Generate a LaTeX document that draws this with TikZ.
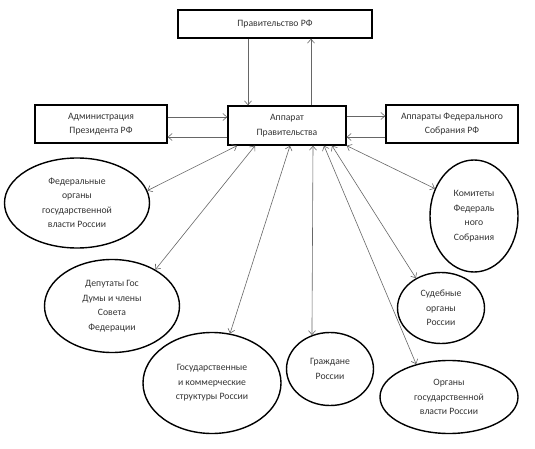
\documentclass[tikz,border=0pt]{standalone}
\usepackage{fontspec}
\setmainfont{Carlito}
\usepackage{xcolor}
\usepackage{tikz}
\usetikzlibrary{shapes.geometric, arrows.meta, positioning, calc}
\definecolor{txtgray}{HTML}{333333}
\definecolor{linegray}{HTML}{666666}
\tikzset{
  box/.style={rectangle, draw=black, line width=1.4pt, fill=white,
    text centered, align=center, text=txtgray, inner sep=2pt,
    font=\fontsize{9.7}{14.5}\selectfont},
  oval/.style={ellipse, draw=black, line width=1.4pt, fill=white,
    text centered, align=center, text=txtgray, inner sep=0pt,
    font=\fontsize{9.7}{14.5}\selectfont},
  arrow/.style={-{Straight Barb[length=4pt,width=7pt]}, draw=linegray, line width=0.6pt},
  dblarrow/.style={{Straight Barb[length=4pt,width=7pt]}-{Straight Barb[length=4pt,width=7pt]},
    draw=linegray, line width=0.6pt}
}

\begin{document}
\begin{tikzpicture}[x=1pt, y=-1pt]
\useasboundingbox (0,0) rectangle (535,449);

\node (gov) [box, minimum width=194pt, minimum height=28pt] at (275,24)   {Правительство РФ};
\node (app) [box, minimum width=118pt, minimum height=39pt] at (287,125.5) {Аппарат\\Правительства};
\node (adm) [box, minimum width=132pt, minimum height=38pt] at (101,124)  {Администрация\\Президента РФ};
\node (fs)  [box, minimum width=132pt, minimum height=38pt] at (452,124)  {Аппараты Федерального\\Собрания РФ};

\node (fed) [oval, minimum width=145pt, minimum height=90pt]  at (77,203)  {Федеральные\\органы\\государственной\\власти России};
\node (dep) [oval, minimum width=135pt, minimum height=93pt]  at (112,306) {Депутаты Гос\\Думы и члены\\Совета\\Федерации};
\node (gk)  [oval, minimum width=138pt, minimum height=101pt] at (212,383) {Государственные\\и коммерческие\\структуры России};
\node (gr)  [oval, minimum width=87pt,  minimum height=73pt]  at (330,369) {Граждане\\России};
\node (org) [oval, minimum width=138pt, minimum height=73pt]  at (449,397) {Органы\\государственной\\власти России};
\node (sud) [oval, minimum width=87pt,  minimum height=71pt]  at (441,308) {Судебные\\органы\\России};
\node (kom) [oval, minimum width=88pt,  minimum height=112pt] at (474,216) {Комитеты\\Федераль\\ного\\Собрания};

% правительство <-> аппарат
\draw [arrow] ([xshift=-27pt]gov.south) -- ([xshift=-39pt]app.north);
\draw [arrow] ([xshift=24pt]app.north)  -- ([xshift=36pt]gov.south);

% горизонтальные связи
\draw [arrow] ([yshift=7pt]adm.east)     -- ([yshift=8.5pt]app.west);
\draw [arrow] ([yshift=-11.5pt]app.west) -- ([yshift=-13pt]adm.east);
\draw [arrow] ([yshift=9.5pt]app.east)   -- ([yshift=8pt]fs.west);
\draw [arrow] ([yshift=-13pt]fs.west)    -- ([yshift=-11.5pt]app.east);

% двусторонние связи
\draw [dblarrow] ([xshift=-50pt]app.south) -- (fed.10);
\draw [dblarrow] ([xshift=-32pt]app.south) -- (dep.40);
\draw [dblarrow] ([xshift=3pt]app.south)   -- (gk.70);
\draw [dblarrow] ([xshift=26pt]app.south)  -- (gr.118);
\draw [dblarrow] ([xshift=37pt]app.south)  -- (org.135);
\draw [dblarrow] ([xshift=45pt]app.south)  -- (sud.130);
\draw [dblarrow] (app.south east)          -- (kom.145);
\end{tikzpicture}
\end{document}
